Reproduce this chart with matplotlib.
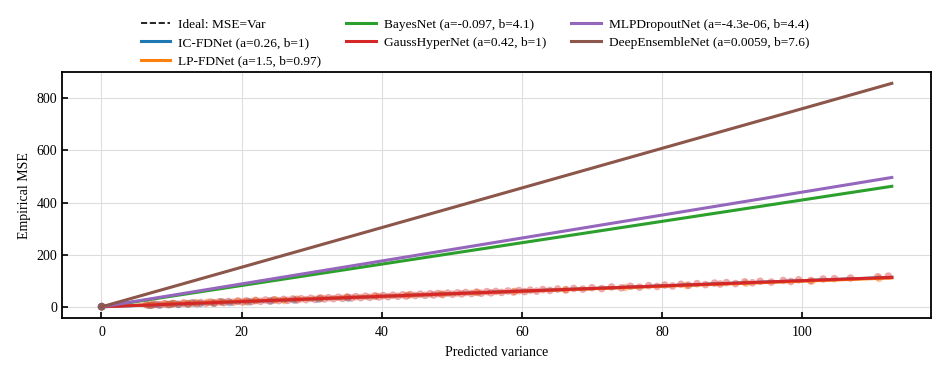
import matplotlib
matplotlib.use('Agg')
import matplotlib.pyplot as plt
import numpy as np

plt.rcParams['font.family'] = ['Liberation Serif', 'DejaVu Serif']
plt.rcParams['font.size'] = 10

# ---- data ----
models = ['IC-FDNet', 'LP-FDNet', 'BayesNet', 'GaussHyperNet', 'MLPDropoutNet', 'DeepEnsembleNet']
colors = ['#1f77b4', '#ff7f0e', '#2ca02c', '#d62728', '#9467bd', '#8c564b']
fit_a = [0.26, 1.5, -0.097, 0.42, -4.3e-06, 0.0059]
fit_b = [1, 0.97, 4.1, 1, 4.4, 7.6]
var_max = 112.8

# per-bin (predicted variance, empirical MSE) points
var_ic = [6.8, 7.4, 8.2, 9.5, 10.1, 11.0, 12.4, 13.2, 14.1, 16.0, 17.2, 18.3, 21.0, 24.2,
          27.5, 31.0, 35.2]
mse_ic = [5.9, 8.6, 7.1, 8.3, 11.9, 9.4, 11.2, 14.8, 12.6, 14.3, 18.9, 16.4, 19.2, 22.8,
          25.9, 29.3, 33.4]

var_lp = [6.3, 7.0, 7.5, 8.9, 9.6, 10.2, 11.8, 12.5, 13.5, 15.2, 16.0, 17.1, 19.4, 20.6,
          22.0, 24.8, 26.1, 27.9, 31.3, 35.0, 39.2, 43.8, 48.5, 53.7, 59.0, 66.2, 74.8,
          83.5, 92.0, 101.4, 111.0]
mse_lp = [9.4, 7.2, 10.6, 12.1, 9.9, 13.4, 14.9, 12.2, 16.3, 18.0, 15.1, 19.6, 21.8, 19.1,
          24.2, 26.7, 24.0, 29.8, 33.1, 36.4, 40.9, 45.0, 49.6, 54.8, 59.7, 66.1, 74.3,
          82.4, 90.6, 99.5, 109.0]

var_gh = [6.5, 7.1, 7.8, 8.4, 9.1, 9.8, 10.4, 11.0, 11.7, 12.3, 12.9, 13.6, 14.2, 14.9,
          15.6, 16.2, 16.8, 17.5, 18.1, 18.8, 19.5, 20.1, 20.7, 21.4, 22.0, 22.7, 23.4,
          24.0, 24.6, 25.3, 26.0, 26.6, 27.3, 27.9, 28.5, 29.2, 29.9, 30.5, 31.2, 31.8,
          32.4, 33.1, 33.8, 34.4, 35.1, 35.7, 36.3, 37.0, 37.7, 38.3, 39.0, 39.6, 40.2,
          40.9, 41.6, 42.3, 43.0, 43.5, 44.1, 44.8, 45.5, 46.2, 46.9, 47.4, 48.0, 48.7,
          49.4, 50.1, 50.8, 51.4, 52.0, 52.8, 53.5, 54.2, 55.0, 55.6, 56.3, 57.1, 58.0,
          58.8, 59.6, 60.4, 61.2, 62.1, 63.0, 64.0, 65.1, 66.3, 67.4, 68.7, 70.0, 71.4,
          72.8, 74.2, 75.5, 76.8, 78.1, 79.3, 80.4, 81.5, 82.7, 83.8, 85.0, 86.2, 87.5,
          88.3, 89.2, 90.5, 91.8, 92.9, 94.0, 95.6, 97.3, 98.4, 99.5, 101.2, 103.0, 104.6,
          106.9, 110.8, 112.3]
mse_gh = [7.9, 5.8, 9.6, 7.1, 11.5, 8.9, 12.4, 9.8, 13.9, 11.2, 15.3, 12.1, 16.4, 13.6,
          18.2, 14.9, 19.3, 16.0, 20.8, 17.5, 22.1, 18.6, 23.5, 19.9, 24.6, 21.3, 26.2,
          22.5, 27.1, 23.9, 28.8, 25.0, 30.2, 26.3, 31.1, 27.8, 32.9, 28.7, 34.0, 30.3,
          35.2, 31.4, 36.9, 32.6, 37.8, 34.1, 39.4, 35.2, 40.8, 36.6, 41.7, 38.1, 43.4,
          39.0, 44.6, 40.7, 46.1, 41.6, 47.2, 43.3, 48.6, 44.2, 50.1, 45.6, 51.0, 47.2,
          52.7, 48.3, 53.6, 49.8, 55.2, 51.1, 56.5, 52.4, 58.3, 53.9, 59.2, 55.5, 60.8,
          57.0, 62.5, 58.6, 64.1, 60.4, 66.2, 63.1, 68.4, 65.0, 70.6, 68.2, 73.5, 70.1,
          76.3, 73.0, 78.9, 75.6, 81.4, 78.2, 83.7, 80.1, 86.5, 82.8, 88.9, 85.3, 91.2,
          87.6, 93.0, 89.4, 95.8, 92.3, 98.1, 95.0, 101.3, 97.2, 103.6, 100.1, 106.9,
          108.2, 110.5, 115.3, 118.0]

# the other three nets predict almost zero variance
var_zero = [0.0, 0.02, 0.05]
mse_zero = [0.3, 0.8, 1.2]

scatter_x = [var_ic, var_lp, var_zero, var_gh, var_zero, var_zero]
scatter_y = [mse_ic, mse_lp, mse_zero, mse_gh, mse_zero, mse_zero]

fig = plt.figure(figsize=(9.46, 3.72), dpi=100)
ax = fig.add_axes([0.0655, 0.145, 0.919, 0.661])

xs = np.linspace(0, var_max, 50)
ax.plot(xs, xs, 'k--', lw=1.2, label='Ideal: MSE=Var', zorder=1)

for m, c, a, b, sx, sy in zip(models, colors, fit_a, fit_b, scatter_x, scatter_y):
    ax.scatter(sx, sy, s=30, color=c, alpha=0.4, edgecolors='none', zorder=2)
    ax.plot(xs, a + b * xs, color=c, lw=2.2, label=f'{m} (a={a:.2g}, b={b:.2g})', zorder=3)

ax.set_xlabel('Predicted variance', labelpad=5)
ax.set_ylabel('Empirical MSE')
ax.set_yticks([0, 200, 400, 600, 800])
ax.grid(True, color='#dddddd', lw=0.8)
ax.set_axisbelow(True)
ax.tick_params(direction='in', length=4, width=1.2)
ax.tick_params(axis='x', pad=6)
for s in ax.spines.values():
    s.set_linewidth(1.3)

fig.legend(loc='upper left', bbox_to_anchor=(0.136, 0.983), ncol=3, frameon=False,
           fontsize=9.6, handlelength=2.2, handletextpad=0.6, columnspacing=1.9,
           labelspacing=0.45)

plt.savefig('out.png', dpi=100, facecolor='white')
